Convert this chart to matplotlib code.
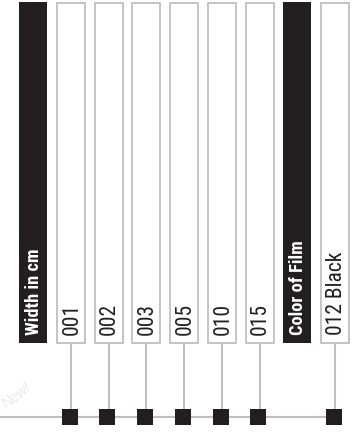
import matplotlib
matplotlib.use("Agg")
import matplotlib.pyplot as plt

# ---- data ----
labels = ["Width in cm", "001", "002", "003", "005", "010", "015", "Color of Film", "012 Black"]
is_header = [True, False, False, False, False, False, False, True, False]
badge_text = "New!"

# ---- styles ----
BLACK = "#231f20"
GRAY = "#bfbfc3"
LIGHT = "#c9c9c9"
HEAD_FONT = ["Roboto Condensed", "DejaVu Sans"]
VAL_FONT = ["Roboto Condensed", "DejaVu Sans"]

W, H = 352, 433
fig = plt.figure(figsize=(W / 100, H / 100), dpi=100)
ax = fig.add_axes([0, 0, 1, 1])
step = 37.75
x0 = 33.0
ax.set_xlim(-x0 / step, (W - x0) / step)
ax.set_ylim(H, 0)
ax.axis("off")

bar_w = 28 / step
top, bottom = 2.5, 343.0
stem_end = 416.7

xs = list(range(len(labels)))
for x, lab, hdr in zip(xs, labels, is_header):
    if hdr:
        ax.bar(x, bottom - top + 0.5, bottom=top - 0.5, width=bar_w, color=BLACK, linewidth=0, zorder=2)
        ax.text(x + 0.02, bottom - 8, lab, rotation=90, ha="center", va="bottom", color="white",
                family=HEAD_FONT, fontweight="bold", fontsize=13.2, zorder=3)
    else:
        ax.bar(x, bottom - top, bottom=top, width=bar_w, facecolor="white", edgecolor=GRAY,
               linewidth=1.3, zorder=2)
        ax.text(x + 0.03, bottom - 8, lab, rotation=90, ha="center", va="bottom", color=BLACK,
                family=VAL_FONT, fontsize=15.5, zorder=3)
        ax.plot([x, x], [bottom, stem_end], color=GRAY, lw=1.5, zorder=1, solid_capstyle="butt")
        ax.plot([x - 0.03], [stem_end], marker="s", ms=11.3, color=BLACK, mew=0, zorder=4)

last_val = max(x for x, h in zip(xs, is_header) if not h)
ax.plot([ax.get_xlim()[0], last_val], [stem_end, stem_end], color=GRAY, lw=1.5, zorder=1)

ax.text(-0.43, 396, badge_text, rotation=38, ha="center", va="center", color=LIGHT,
        family=["Roboto", "DejaVu Sans"], fontweight="light", fontstyle="italic", fontsize=11)

fig.savefig("out.png", dpi=100)
